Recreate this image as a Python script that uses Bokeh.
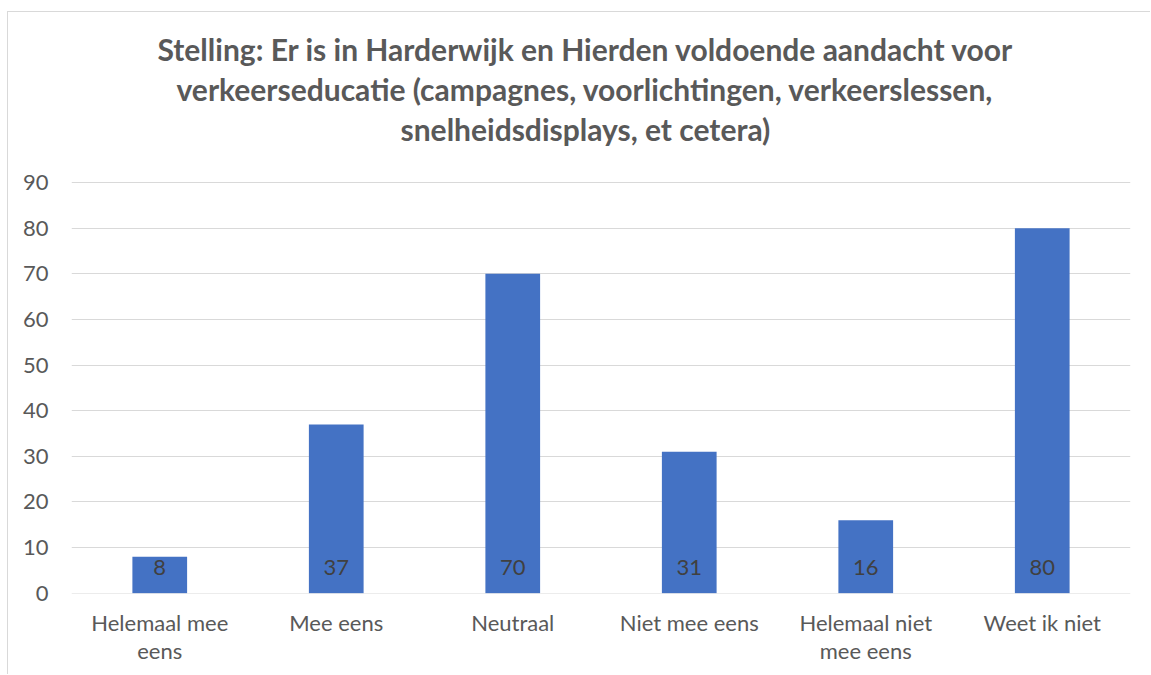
from bokeh.plotting import figure
from bokeh.models import Range1d, FixedTicker, ColumnDataSource, Title
from bokeh.core.properties import value
from bokeh.embed import file_html
from bokeh.resources import INLINE

categories = ["Helemaal mee\neens", "Mee eens", "Neutraal", "Niet mee eens",
              "Helemaal niet\nmee eens", "Weet ik niet"]
values = [8, 37, 70, 31, 16, 80]
y_ticks = [0, 10, 20, 30, 40, 50, 60, 70, 80, 90]
title_lines = ["Stelling: Er is in Harderwijk en Hierden voldoende aandacht voor",
               "verkeerseducatie (campagnes, voorlichtingen, verkeerslessen,",
               "snelheidsdisplays, et cetera)"]
title_offsets = [86, 105, 329]

FONT = "Lato"
GRAY = "#595959"

src = ColumnDataSource(dict(cat=categories, val=values, lab=[str(v) for v in values]))

# range extends above 90 so the title stack sits higher; nothing is drawn there
p = figure(x_range=categories, y_range=Range1d(-0.05, 97.67), width=1143, height=663,
           output_backend="svg", toolbar_location=None,
           min_border_left=63, min_border_right=21, min_border_top=135,
           min_border_bottom=82)
p.styles = {"margin-left": "7px", "margin-top": "11px",
            "border-left": "1px solid #d9d9d9", "border-top": "1px solid #d9d9d9"}
p.title = None
for line, off in reversed(list(zip(title_lines, title_offsets))):
    p.add_layout(Title(text=line, align="left", text_font=FONT, text_font_size="30px",
                       text_font_style="bold", text_color=GRAY, offset=off,
                       standoff=2), "above")

p.vbar(x="cat", top="val", width=0.31, source=src, color="#4472C4", line_color=None)
p.text(x="cat", y=0, text="lab", source=src, text_align="center",
       text_baseline="middle", y_offset=-26, text_font=value(FONT),
       text_font_size="22px", text_color="#404040")

p.outline_line_color = None
p.background_fill_color = "white"
p.border_fill_color = "white"
p.xgrid.grid_line_color = None
p.ygrid.grid_line_color = "#d9d9d9"
p.ygrid.grid_line_width = 1
p.yaxis.ticker = FixedTicker(ticks=y_ticks)
for ax in (p.xaxis[0], p.yaxis[0]):
    ax.axis_line_color = None
    ax.major_tick_line_color = None
    ax.minor_tick_line_color = None
    ax.major_label_text_font = FONT
    ax.major_label_text_font_size = "22px"
    ax.major_label_text_color = GRAY
p.yaxis.major_tick_out = 0
p.yaxis.major_label_standoff = 23
p.xaxis.major_label_standoff = 9
p.xaxis.major_label_text_line_height = 1.07

open("out.html", "w").write(file_html(p, INLINE))
